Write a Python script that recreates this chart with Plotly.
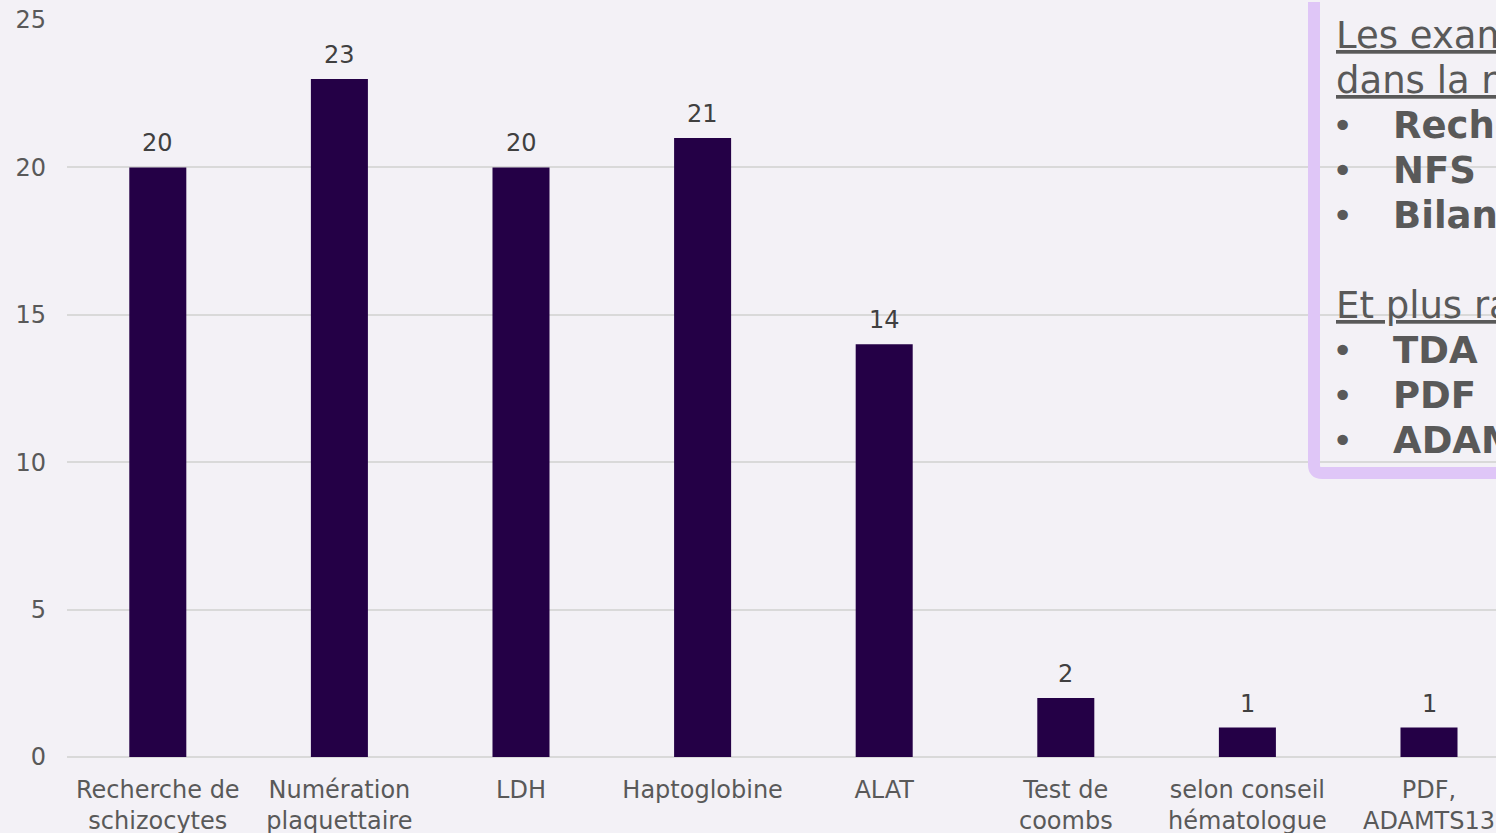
import plotly.graph_objects as go

categories = ["Recherche de<br>schizocytes", "Numération<br>plaquettaire", "LDH", "Haptoglobine",
              "ALAT", "Test de<br>coombs", "selon conseil<br>hématologue", "PDF,<br>ADAMTS13"]
values = [20, 23, 20, 21, 14, 2, 1, 1]
y_ticks = [0, 5, 10, 15, 20, 25]

box_lines = [
    ("Les examens réalisés", "under", False, None),
    ("dans la revue des dossiers :", "under", False, None),
    ("Recherche de schizocytes", "none", True, "•"),
    ("NFS", "none", True, "•"),
    ("Bilan d'hémolyse", "none", True, "•"),
    ("", "none", False, None),
    ("Et plus rarement :", "under", False, None),
    ("TDA", "none", True, "•"),
    ("PDF", "none", True, "•"),
    ("ADAMTS13", "none", True, "•"),
]

W, H = 1496, 833
L, T, B = 67, 20, 76
PW, PH = W - L, H - T - B
BG = "#f3f1f6"
FONT = "DejaVu Sans"


def px(x):
    return (x - L) / PW


def py(y):
    return (H - B - y) / PH


fig = go.Figure()
fig.add_trace(go.Bar(
    x=list(range(len(categories))), y=values,
    marker=dict(color="#240046", line=dict(width=0)),
    hoverinfo="skip",
))

annotations = []
for i, v in enumerate(values):
    annotations.append(dict(
        x=i, y=v, xref="x", yref="y", text=str(v), showarrow=False,
        yanchor="bottom", yshift=8,
        font=dict(family=FONT, size=24, color="#404040"),
    ))

# text box lines
for i, (txt, lp, bold, bullet) in enumerate(box_lines):
    base = 48.3 + 45.0 * i
    cy = base - 12.8
    if bullet:
        annotations.append(dict(
            x=px(1330), y=py(cy), xref="paper", yref="paper", text=bullet,
            showarrow=False, xanchor="left", yanchor="middle",
            font=dict(family=FONT, size=36, color="#595959"),
        ))
    if txt:
        annotations.append(dict(
            x=px(1391 if bullet else 1334), y=py(cy), xref="paper", yref="paper",
            text=("<b>%s</b>" % txt) if bold else txt,
            showarrow=False, xanchor="left", yanchor="middle",
            font=dict(family=FONT, size=37, color="#595959", lineposition=lp),
        ))

# rounded box outline
x0, y0, x1, y1 = 1314, 2, 1560, 473
r = 8
path = (f"M {px(x0)},{py(y0)} L {px(x0)},{py(y1 - r)} Q {px(x0)},{py(y1)} {px(x0 + r)},{py(y1)} "
        f"L {px(x1)},{py(y1)}")
shapes = [dict(type="path", path=path, xref="paper", yref="paper",
               line=dict(color="#dfc6f7", width=12), fillcolor="rgba(0,0,0,0)", layer="above")]

fig.update_layout(
    width=W, height=H,
    margin=dict(l=L, r=0, t=T, b=B, pad=0, autoexpand=False),
    paper_bgcolor=BG, plot_bgcolor=BG,
    bargap=0.686,
    showlegend=False,
    annotations=annotations,
    shapes=shapes,
    font=dict(family=FONT, color="#595959"),
    xaxis=dict(
        range=[-0.5, (PW / 181.6) - 0.5],
        tickmode="array", tickvals=list(range(len(categories))), ticktext=categories,
        tickfont=dict(family=FONT, size=24, color="#595959"),
        showgrid=False, zeroline=False, showline=False, ticks="",
        ticklabelstandoff=16, automargin=False,
        fixedrange=True,
    ),
    yaxis=dict(
        range=[0, 25], tickmode="array", tickvals=y_ticks,
        tickfont=dict(family=FONT, size=24, color="#595959"),
        showgrid=True, gridcolor="#d9d9d9", gridwidth=2,
        zeroline=True, zerolinecolor="#d9d9d9", zerolinewidth=2,
        showline=False, ticks="", ticklabelstandoff=20, automargin=False,
        fixedrange=True,
    ),
)

fig.write_html("out.html", config={"displayModeBar": False})
